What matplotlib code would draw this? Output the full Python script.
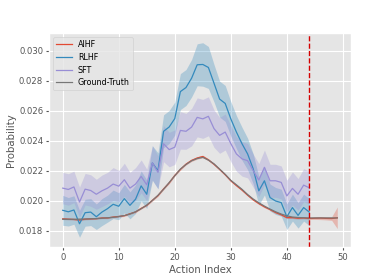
import matplotlib
matplotlib.use('Agg')
import matplotlib.pyplot as plt
import numpy as np

plt.style.use('ggplot')
plt.rcParams['font.size'] = 6.1
plt.rcParams['lines.linewidth'] = 0.9
plt.rcParams['xtick.major.size'] = 2.1
plt.rcParams['ytick.major.size'] = 2.1
plt.rcParams['xtick.major.pad'] = 2.1
plt.rcParams['ytick.major.pad'] = 2.1
plt.rcParams['axes.labelpad'] = 2.4

# RLHF / SFT 只到 44
rlhf = [0.01935, 0.01925, 0.01937, 0.01845, 0.01919, 0.01923, 0.01892, 0.01923, 0.01946, 0.01975,
        0.01962, 0.02013, 0.01968, 0.02009, 0.02098, 0.02042, 0.02251, 0.02199, 0.02462, 0.02491,
        0.02547, 0.02727, 0.02754, 0.02816, 0.02906, 0.02908, 0.02888, 0.02783, 0.02677, 0.02648,
        0.02545, 0.02457, 0.02379, 0.02311, 0.02211, 0.02065, 0.02132, 0.02020, 0.01997, 0.01986,
        0.01892, 0.01953, 0.01901, 0.01953, 0.01923]
rlhf_std = [0.00100, 0.00095, 0.00095, 0.00090, 0.00090, 0.00090, 0.00085, 0.00090, 0.00090, 0.00095,
            0.00090, 0.00095, 0.00090, 0.00095, 0.00100, 0.00095, 0.00115, 0.00120, 0.00110, 0.00110,
            0.00110, 0.00120, 0.00120, 0.00125, 0.00140, 0.00145, 0.00140, 0.00125, 0.00120, 0.00120,
            0.00115, 0.00110, 0.00110, 0.00105, 0.00100, 0.00095, 0.00095, 0.00090, 0.00090, 0.00090,
            0.00085, 0.00090, 0.00085, 0.00090, 0.00090]
sft = [0.02083, 0.02074, 0.02091, 0.01990, 0.02076, 0.02067, 0.02042, 0.02065, 0.02083, 0.02110,
       0.02096, 0.02139, 0.02083, 0.02110, 0.02161, 0.02105, 0.02251, 0.02188, 0.02379, 0.02340,
       0.02356, 0.02468, 0.02462, 0.02490, 0.02555, 0.02545, 0.02562, 0.02480, 0.02435, 0.02457,
       0.02380, 0.02311, 0.02278, 0.02266, 0.02199, 0.02137, 0.02222, 0.02132, 0.02132, 0.02121,
       0.02031, 0.02081, 0.02042, 0.02103, 0.02085]
sft_std = [0.00105, 0.00105, 0.00105, 0.00100, 0.00105, 0.00105, 0.00100, 0.00105, 0.00105, 0.00110,
           0.00105, 0.00110, 0.00105, 0.00110, 0.00110, 0.00105, 0.00115, 0.00110, 0.00120, 0.00115,
           0.00115, 0.00125, 0.00120, 0.00125, 0.00130, 0.00130, 0.00130, 0.00125, 0.00120, 0.00120,
           0.00120, 0.00115, 0.00115, 0.00115, 0.00110, 0.00110, 0.00115, 0.00110, 0.00110, 0.00110,
           0.00105, 0.00110, 0.00105, 0.00110, 0.00110]
# AIHF / Ground-Truth 到 49
gt = [0.01875, 0.01875, 0.01875, 0.01876, 0.01877, 0.01878, 0.01880, 0.01882, 0.01885, 0.01888,
      0.01893, 0.01900, 0.01910, 0.01925, 0.01945, 0.01970, 0.02000, 0.02035, 0.02075, 0.02120,
      0.02165, 0.02210, 0.02240, 0.02265, 0.02280, 0.02288, 0.02270, 0.02245, 0.02210, 0.02175,
      0.02135, 0.02105, 0.02075, 0.02040, 0.02010, 0.01985, 0.01963, 0.01943, 0.01925, 0.01910,
      0.01898, 0.01890, 0.01887, 0.01885, 0.01884, 0.01884, 0.01884, 0.01884, 0.01884, 0.01884]
aihf = [0.01878, 0.01876, 0.01874, 0.01870, 0.01876, 0.01878, 0.01879, 0.01884, 0.01884, 0.01890,
        0.01894, 0.01899, 0.01912, 0.01924, 0.01948, 0.01968, 0.02002, 0.02033, 0.02078, 0.02118,
        0.02168, 0.02208, 0.02243, 0.02268, 0.02284, 0.02294, 0.02272, 0.02242, 0.02208, 0.02172,
        0.02132, 0.02100, 0.02070, 0.02036, 0.02005, 0.01980, 0.01958, 0.01940, 0.01920, 0.01905,
        0.01886, 0.01886, 0.01882, 0.01884, 0.01880, 0.01882, 0.01883, 0.01881, 0.01880, 0.01885]
aihf_std = [0.00005, 0.00005, 0.00005, 0.00006, 0.00005, 0.00005, 0.00005, 0.00005, 0.00005, 0.00005,
            0.00005, 0.00005, 0.00005, 0.00005, 0.00005, 0.00005, 0.00006, 0.00006, 0.00006, 0.00006,
            0.00006, 0.00006, 0.00006, 0.00007, 0.00008, 0.00008, 0.00007, 0.00006, 0.00006, 0.00006,
            0.00006, 0.00006, 0.00006, 0.00006, 0.00006, 0.00006, 0.00006, 0.00006, 0.00006, 0.00006,
            0.00006, 0.00006, 0.00006, 0.00006, 0.00006, 0.00008, 0.00010, 0.00010, 0.00012, 0.00072]
cut_idx = 44

X1 = np.arange(len(gt))
X2 = np.arange(len(rlhf))

fig, ax = plt.subplots(figsize=(3.9, 2.79), dpi=100)
fig.subplots_adjust(left=0.1256, right=0.9, bottom=0.1147, top=0.8817)
a, s = np.array(aihf), np.array(aihf_std)
ax.plot(X1, a, color='C0', label='AIHF')
ax.fill_between(X1, a - s, a + s, color='C0', alpha=0.3, lw=0)
r, s = np.array(rlhf), np.array(rlhf_std)
ax.plot(X2, r, color='C1', label='RLHF')
ax.fill_between(X2, r - s, r + s, color='C1', alpha=0.3, lw=0)
f, s = np.array(sft), np.array(sft_std)
ax.plot(X2, f, color='C2', label='SFT')
ax.fill_between(X2, f - s, f + s, color='C2', alpha=0.3, lw=0)
ax.plot(X1, gt, color='C3', label='Ground-Truth')
ax.axvline(cut_idx, color='#d40000', linestyle='--', linewidth=1.0)

ax.set_xlabel('Action Index')
ax.set_ylabel('Probability')
ax.legend(loc='upper left', fontsize=5.8, handlelength=1.9, labelspacing=0.45)
plt.savefig('out.png')
